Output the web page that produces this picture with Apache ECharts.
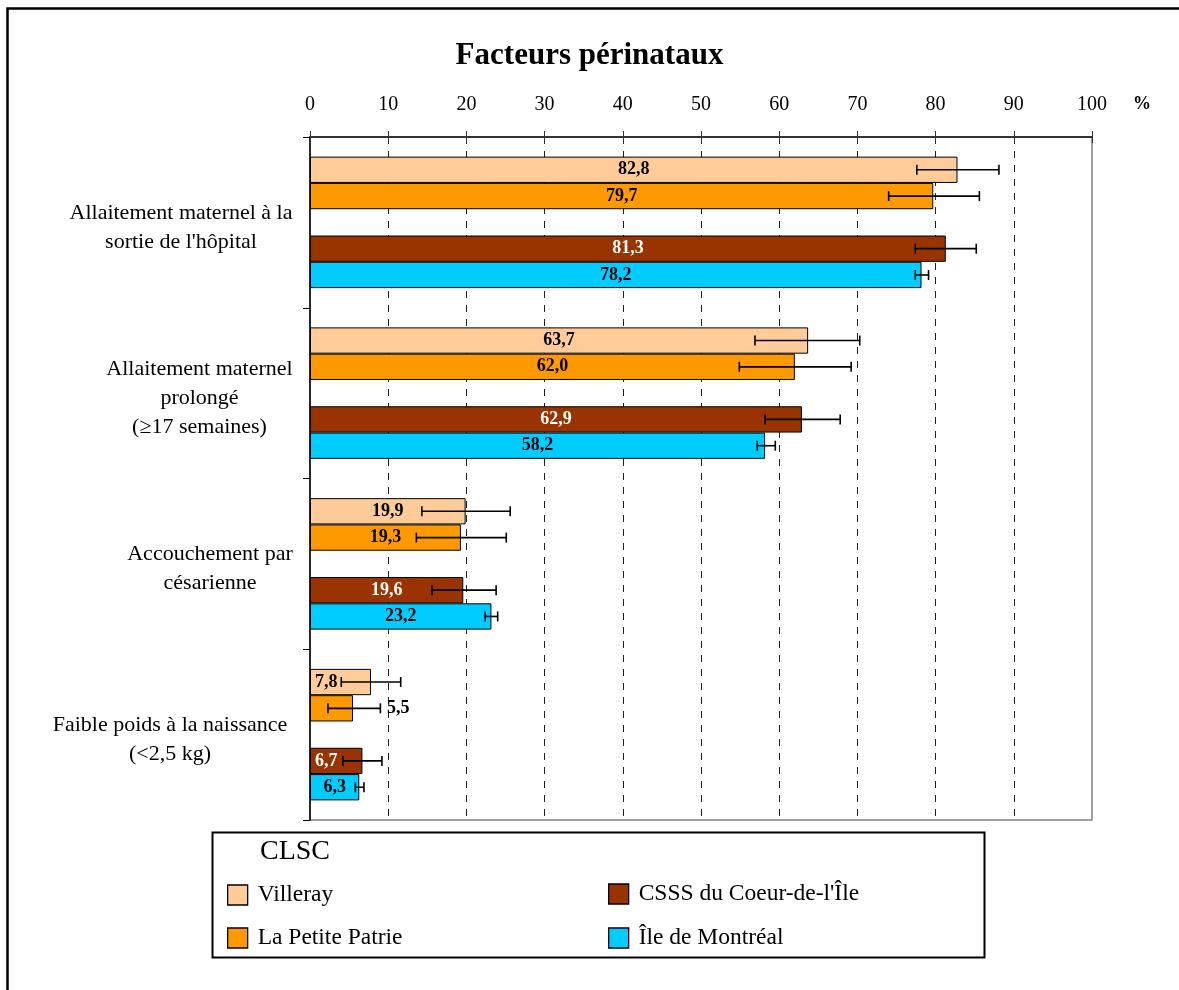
<!DOCTYPE html>
<html>
<head>
<meta charset="utf-8">
<script src="https://cdn.jsdelivr.net/npm/echarts@6/dist/echarts.min.js"></script>
<style>
html,body{margin:0;padding:0;background:#fff;}
#chart{width:1179px;height:990px;}
</style>
</head>
<body>
<div id="chart"></div>
<script>
// ---- DATA ----
const categories = [
  "Allaitement maternel à la\nsortie de l'hôpital",
  "Allaitement maternel\nprolongé\n(≥17 semaines)",
  "Accouchement par\ncésarienne",
  "Faible poids à la naissance\n(<2,5 kg)"
];
const seriesNames = ["Villeray", "La Petite Patrie", "CSSS du Coeur-de-l'Île", "Île de Montréal"];
const villeray      = [82.8, 63.7, 19.9, 7.8];
const petitePatrie  = [79.7, 62.0, 19.3, 5.5];
const csss          = [81.3, 62.9, 19.6, 6.7];
const montreal      = [78.2, 58.2, 23.2, 6.3];
// confidence intervals [low, high]
const villerayCI     = [[77.6, 88.1], [56.9, 70.3], [14.3, 25.6], [4.0, 11.6]];
const petitePatrieCI = [[74.0, 85.6], [54.9, 69.2], [13.6, 25.1], [2.3, 9.0]];
const csssCI         = [[77.4, 85.2], [58.2, 67.8], [15.6, 23.8], [4.2, 9.2]];
const montrealCI     = [[77.4, 79.1], [57.2, 59.5], [22.4, 24.0], [5.8, 6.9]];
const xTicks = [0, 10, 20, 30, 40, 50, 60, 70, 80, 90, 100];

// ---- STYLE ----
const FONT = "'Liberation Serif','Times New Roman',serif";
const colors = ["#FFCC99", "#FF9900", "#993300", "#00CCFF"];
const GAP = 0.23;
const slots = [0, 1, 3, 4];
const allValues = [villeray, petitePatrie, csss, montreal];
const allCI = [villerayCI, petitePatrieCI, csssCI, montrealCI];

const fmt = v => v.toFixed(1).replace('.', ',');

function barSeries(idx) {
  const vals = allValues[idx];
  return {
    type: 'bar',
    name: seriesNames[idx],
    barGap: '0%',
    barCategoryGap: (GAP * 100) + '%',
    silent: true,
    itemStyle: { color: colors[idx], borderColor: '#000', borderWidth: 1 },
    label: {
      show: true,
      position: 'inside',
      formatter: p => fmt(p.value),
      fontFamily: FONT, fontWeight: 'bold', fontSize: 18,
      color: idx === 2 ? '#fff' : '#000'
    },
    data: vals.map((v, i) => {
      const item = { value: v };
      if (idx === 1 && i === 3) item.label = { position: 'right', distance: 34 };
      if ((idx === 0 || idx === 2) && i === 3) item.label = { position: 'insideLeft', distance: 5 };
      return item;
    }),
    z: 2
  };
}

const blank = { type: 'bar', name: '', barGap: '0%', barCategoryGap: (GAP * 100) + '%', data: categories.map(() => null), silent: true };

const errData = [];
allCI.forEach((ci, s) => ci.forEach((r, c) => errData.push([c, r[0], r[1], slots[s]])));

const errSeries = {
  type: 'custom',
  silent: true,
  z: 5,
  encode: { x: [1, 2], y: 0 },
  data: errData,
  renderItem: function (params, api) {
    const cat = api.value(0), lo = api.value(1), hi = api.value(2), slot = api.value(3);
    const p1 = api.coord([lo, cat]);
    const p2 = api.coord([hi, cat]);
    const band = api.size([0, 1])[1];
    const groupW = band * (1 - GAP);
    const bw = groupW / 5;
    const y = p1[1] - groupW / 2 + bw * (slot + 0.5);
    const cap = 5;
    const st = { stroke: '#000', lineWidth: 1.6 };
    return {
      type: 'group',
      children: [
        { type: 'line', shape: { x1: p1[0], y1: y, x2: p2[0], y2: y }, style: st },
        { type: 'line', shape: { x1: p1[0], y1: y - cap, x2: p1[0], y2: y + cap }, style: st },
        { type: 'line', shape: { x1: p2[0], y1: y - cap, x2: p2[0], y2: y + cap }, style: st }
      ]
    };
  }
};

const richWidths = [224, 187, 166, 246];
const rich = {};
richWidths.forEach((w, i) => {
  rich['c' + i] = { width: w, align: 'center', fontFamily: FONT, fontSize: 22, lineHeight: 29, color: '#000' };
});

const chart = echarts.init(document.getElementById('chart'), null, { renderer: 'canvas' });
chart.setOption({
  backgroundColor: '#fff',
  animation: false,
  title: {
    text: 'Facteurs périnataux',
    left: 'center', top: 35,
    textStyle: { fontFamily: FONT, fontWeight: 'bold', fontSize: 31, color: '#000' }
  },
  grid: { left: 310, top: 137, width: 782, height: 683, show: true, borderColor: '#808080', borderWidth: 1.5, containLabel: false },
  xAxis: [{
    type: 'value', position: 'top', min: 0, max: 100, interval: 10,
    axisLine: { show: true, lineStyle: { color: '#333', width: 2 } },
    axisTick: { show: true, length: 6, lineStyle: { color: '#333', width: 1 } },
    axisLabel: { fontFamily: FONT, fontSize: 20, color: '#000', margin: 22, formatter: v => xTicks.includes(v) ? String(v) : '' },
    splitLine: { show: true, showMaxLine: false, showMinLine: false, lineStyle: { color: '#222', type: [7, 7], width: 1 } }
  }, {
    type: 'value', position: 'bottom', offset: -683, min: 0, max: 100, interval: 10,
    axisLine: { show: false },
    axisTick: { show: true, length: 6, lineStyle: { color: '#333', width: 1 } },
    axisLabel: { show: false },
    splitLine: { show: false }
  }],
  yAxis: {
    type: 'category', inverse: true, data: categories,
    axisLine: { show: true, lineStyle: { color: '#000', width: 1.5 } },
    axisTick: { show: true, length: 7, lineStyle: { color: '#000' } },
    axisLabel: {
      margin: 17, align: 'right', padding: [10, 0, 0, 0],
      formatter: function (val, idx) {
        return val.split('\n').map(l => '{c' + idx + '|' + l + '}').join('\n');
      },
      rich: rich
    }
  },
  legend: [{
    data: [seriesNames[0], seriesNames[1]],
    orient: 'vertical', left: 222, top: 878, itemWidth: 20, itemHeight: 20, itemGap: 19,
    icon: 'rect', selectedMode: false,
    itemStyle: { borderColor: '#000', borderWidth: 1.3 },
    textStyle: { fontFamily: FONT, fontSize: 23.5, color: '#000', padding: [6, 0, 0, 5] }
  }, {
    data: [seriesNames[2], seriesNames[3]],
    orient: 'vertical', left: 603, top: 877, itemWidth: 20, itemHeight: 20, itemGap: 20,
    icon: 'rect', selectedMode: false,
    itemStyle: { borderColor: '#000', borderWidth: 1.3 },
    textStyle: { fontFamily: FONT, fontSize: 23.5, color: '#000', padding: [6, 0, 0, 5] }
  }],
  graphic: [
    { type: 'rect', left: 5, top: 6, shape: { width: 1300, height: 1100 }, style: { fill: 'none', stroke: '#000', lineWidth: 2.5 }, silent: true, z: -1 },
    { type: 'rect', left: 210, top: 830, shape: { width: 772, height: 125 }, style: { fill: 'none', stroke: '#000', lineWidth: 2 }, silent: true },
    { type: 'text', left: 260, top: 838, style: { text: 'CLSC', font: '28px ' + FONT, fill: '#000' }, silent: true },
    { type: 'text', left: 1133, top: 95, style: { text: '%', font: 'bold 18px ' + FONT, fill: '#000' }, silent: true }
  ],
  series: [barSeries(0), barSeries(1), blank, barSeries(2), barSeries(3), errSeries]
});
</script>
</body>
</html>
